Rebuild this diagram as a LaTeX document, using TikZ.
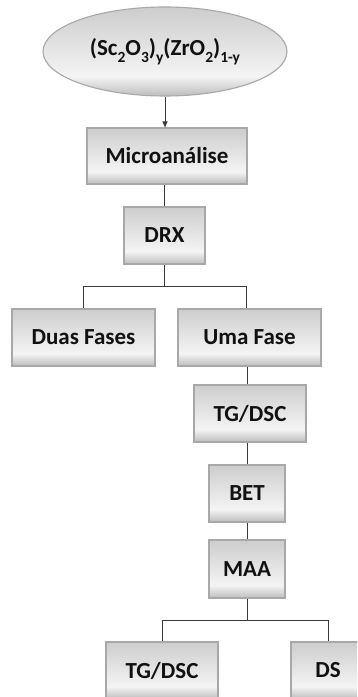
\documentclass[tikz,border=0pt]{standalone}
\usepackage{fontspec}
\setmainfont{Carlito}
\usetikzlibrary{arrows.meta,shapes.geometric,calc}
\definecolor{boxtop}{HTML}{CDCDCD}
\definecolor{boxmid}{HTML}{F4F4F4}
\definecolor{boxbot}{HTML}{BDBDBD}
\definecolor{boxedge}{HTML}{A8A8A8}
\definecolor{linec}{HTML}{3A3A3A}
\definecolor{txt}{HTML}{111111}
\pgfdeclareverticalshading{boxshade}{100bp}{color(0bp)=(boxbot); color(25bp)=(boxbot); color(36bp)=(boxmid); color(75bp)=(boxtop); color(100bp)=(boxtop)}
\newcommand{\sbs}[1]{\raisebox{-0.28em}{\fontsize{15.5}{16}\selectfont #1}}
\tikzset{
  stepbox/.style={draw=boxedge, line width=1.1pt, shading=boxshade,
    inner sep=0pt, text=txt, font=\fontsize{23}{26}\selectfont\bfseries},
  startell/.style={ellipse, draw=boxedge, line width=1.1pt, shading=boxshade,
    inner sep=0pt, text=txt, font=\fontsize{23}{26}\selectfont\bfseries},
  conn/.style={draw=linec, line width=1pt},
}
\begin{document}
\begin{tikzpicture}[x=1pt,y=1pt]
\useasboundingbox (0,0) rectangle (357,697);
\clip (0,0) rectangle (357,697);
\fill[white] (0,0) rectangle (357,697);

\node[startell, minimum width=244pt, minimum height=89pt] (src) at (165,645.5)
  {(Sc\sbs{2}O\sbs{3})\sbs{y}(ZrO\sbs{2})\sbs{1-y}};
\node[stepbox, minimum width=160pt, minimum height=56pt] (micro) at (167,541) {Microanálise};
\node[stepbox, minimum width=81pt, minimum height=57pt] (drx) at (164.5,461.5) {DRX};
\node[stepbox, minimum width=143pt, minimum height=57pt] (duas) at (83.5,359.5) {Duas Fases};
\node[stepbox, minimum width=143pt, minimum height=57pt] (uma) at (249.5,359.5) {Uma Fase};
\node[stepbox, minimum width=112pt, minimum height=57pt] (tga) at (250,283.5) {TG/DSC};
\node[stepbox, minimum width=76pt, minimum height=57pt] (bet) at (247,203.5) {BET};
\node[stepbox, minimum width=76pt, minimum height=58pt] (maa) at (247,128) {MAA};
\node[stepbox, minimum width=112pt, minimum height=57pt] (tgb) at (162,26.5) {TG/DSC};
\node[stepbox, minimum width=74pt, minimum height=57pt] (ds) at (328,26.5) {DS};

\draw[conn, -{Triangle[length=6pt,width=5pt]}] (src.south) -- (src.south |- micro.north);
\draw[conn] (micro.south -| drx.north) -- (drx.north);

\coordinate (j1) at ($(drx.south)+(0,-22)$);
\draw[conn] (drx.south) -- (j1);
\draw[conn] (j1) -| (duas.north);
\draw[conn] (j1) -| ($(uma.north)+(-3,0)$);

\draw[conn] (uma.south -| bet.north) -- (tga.north -| bet.north);
\draw[conn] (tga.south -| bet.north) -- (bet.north);
\draw[conn] (bet.south) -- (maa.north);

\coordinate (j2) at ($(maa.south)+(0,-22)$);
\draw[conn] (maa.south) -- (j2);
\draw[conn] (j2) -| (tgb.north);
\draw[conn] (j2) -| (ds.north);
\end{tikzpicture}
\end{document}
